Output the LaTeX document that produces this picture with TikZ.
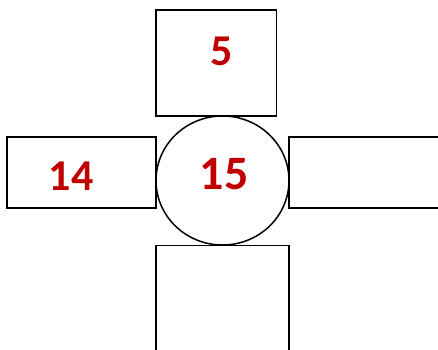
\documentclass[tikz,border=0pt]{standalone}
\usepackage{fontspec}
\setmainfont{Carlito}
\definecolor{numred}{HTML}{C00000}
\begin{document}
\begin{tikzpicture}[x=1pt,y=-1pt,
  boxline/.style={draw=black,line width=1.8pt},
  numtext/.style={text=numred,font=\bfseries\fontsize{44}{44}\selectfont,inner sep=0pt,anchor=center}]
\useasboundingbox (0,0) rectangle (438,349);
\clip (0,0) rectangle (438,349);
\draw[boxline] (156,10) rectangle (276.5,116);
\node[coordinate] (topbox) at (216,63) {};
\draw[boxline] (7,137) rectangle (156,208);
\draw[boxline] (289,137) rectangle (445,208);
\draw[boxline] (156,245.5) rectangle (289,360);
\draw[line width=1.5pt] (222.5,180.5) ellipse [x radius=66.5, y radius=64.5];
\node[numtext] (five) at (221.7,51.7) {5};
\node[numtext] (fourteen) at (71.2,176.2) {14};
\node[numtext,font=\bfseries\fontsize{48}{48}\selectfont] (fifteen) at (224,173.8) {15};
\end{tikzpicture}
\end{document}
